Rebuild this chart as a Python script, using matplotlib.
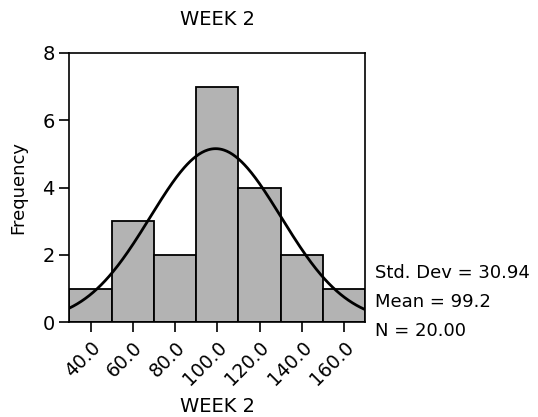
import numpy as np
import matplotlib.pyplot as plt

# histogram data (WEEK 2)
bin_centers = [40, 60, 80, 100, 120, 140, 160]
counts = [1, 3, 2, 7, 4, 2, 1]
tick_labels = ['40.0', '60.0', '80.0', '100.0', '120.0', '140.0', '160.0']
std_dev = 30.94
mean = 99.2
n = 20
bin_width = 20

plt.rcParams['font.family'] = ['DejaVu Sans']

fig = plt.figure(figsize=(5.38, 4.17), dpi=100)
ax = fig.add_axes([0.129, 0.227, 0.55, 0.646])

ax.bar(bin_centers, counts, width=bin_width, color='#b3b3b3',
       edgecolor='black', linewidth=1.3)

# normal curve scaled to counts
x = np.linspace(30, 170, 300)
y = n * bin_width / (std_dev * np.sqrt(2 * np.pi)) * np.exp(-0.5 * ((x - mean) / std_dev) ** 2)
ax.plot(x, y, color='black', linewidth=2)

ax.set_xlim(30, 170)
ax.set_ylim(0, 8)
ax.set_yticks([0, 2, 4, 6, 8])
ax.set_xticks(bin_centers)
ax.set_xticklabels(tick_labels, rotation=45, ha='right', rotation_mode='anchor')
ax.tick_params(axis='both', labelsize=13.5, length=7, width=1.2, direction='out')
ax.tick_params(axis='y', labelsize=14)
ax.tick_params(axis='x', pad=4)
for s in ax.spines.values():
    s.set_linewidth(1.2)

ax.set_title('WEEK 2', fontsize=14, pad=20)
ax.set_xlabel('WEEK 2', fontsize=14, labelpad=6)
ax.set_ylabel('Frequency', fontsize=13, labelpad=11)

stats = ['Std. Dev = %.2f' % std_dev, 'Mean = %.1f' % mean, 'N = %.2f' % n]
for i, s in enumerate(stats):
    fig.text(375 / 538, 1 - (273 + 29 * i) / 417, s, fontsize=13, va='center', ha='left')

fig.savefig('out.png', dpi=100)
